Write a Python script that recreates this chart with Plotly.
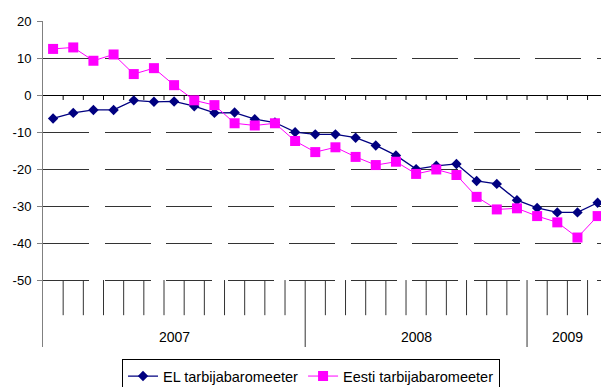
import plotly.graph_objects as go

# ---- data ----
years = ["2007", "2008", "2009"]
year_span = [13, 11, 4]  # number of monthly categories per year group

el_values = [-6.3, -4.8, -4.0, -4.0, -1.4, -1.8, -1.7, -3.0, -4.8, -4.7, -6.5, -7.4,
             -10.0, -10.6, -10.6, -11.5, -13.6, -16.3, -20.0, -19.1, -18.6, -23.2, -24.0,
             -28.4, -30.5, -31.7, -31.7, -29.1]
eesti_values = [12.5, 12.9, 9.3, 11.0, 5.7, 7.3, 2.7, -1.4, -2.7, -7.6, -8.2, -7.6,
                -12.4, -15.4, -14.1, -16.7, -18.9, -18.0, -21.3, -20.1, -21.6, -27.5, -30.9,
                -30.6, -32.7, -34.4, -38.5, -32.7]
y_ticks = [-50, -40, -30, -20, -10, 0, 10, 20]
y_tick_labels = ["-50", "-40", "-30", "-20", "-10", "0", "10", "20"]

n = len(el_values)
x = list(range(n))

Y_MIN, Y_MAX = -68.1, 20.05
FONT = '"Liberation Sans", Arial, sans-serif'

fig = go.Figure()
fig.add_trace(go.Scatter(
    x=x, y=el_values, name="EL tarbijabaromeeter", mode="lines+markers",
    line=dict(color="#000080", width=1.3),
    marker=dict(symbol="diamond", size=8, color="#000080"),
    cliponaxis=False,
))
fig.add_trace(go.Scatter(
    x=x, y=eesti_values, name="Eesti tarbijabaromeeter", mode="lines+markers",
    line=dict(color="#FF00FF", width=1),
    marker=dict(symbol="square", size=10, color="#FF00FF"),
    cliponaxis=False,
))

shapes = []
# small ticks on the zero line at category boundaries
for k in range(1, n):
    shapes.append(dict(type="line", xref="x", yref="y", x0=k - 0.5, x1=k - 0.5,
                       y0=0, y1=-1.3, line=dict(color="#000000", width=1)))
# category separators below the plot
year_bounds = []
acc = 0
for s in year_span:
    acc += s
    year_bounds.append(acc)
for k in range(1, n):
    bottom = Y_MIN if k in year_bounds else -59.5
    shapes.append(dict(type="line", xref="x", yref="y", x0=k - 0.5, x1=k - 0.5,
                       y0=-50, y1=bottom, line=dict(color="#333333", width=1)))

annotations = []
start = 0
for yr, s in zip(years, year_span):
    annotations.append(dict(x=start + s / 2 - 0.5, y=-65.3, xref="x", yref="y",
                            text=yr, showarrow=False,
                            font=dict(family=FONT, size=14, color="#000000")))
    start += s

fig.update_layout(
    width=601, height=387,
    margin=dict(l=43, r=0, t=21, b=40, autoexpand=False),
    paper_bgcolor="white", plot_bgcolor="white",
    font=dict(family=FONT, color="#000000"),
    showlegend=True,
    legend=dict(orientation="h", x=0.1416, xanchor="left",
                yref="container", y=0.072, yanchor="top",
                bordercolor="#000000", borderwidth=1, bgcolor="white",
                font=dict(family=FONT, size=14.5, color="#000000"),
                itemwidth=30, tracegroupgap=0),
    shapes=shapes,
    annotations=annotations,
)
fig.update_xaxes(range=[-0.5, 27.167], showticklabels=False, showgrid=False,
                 zeroline=False, showline=False, ticks="", automargin=False)
fig.update_yaxes(range=[Y_MIN, Y_MAX], tickvals=y_ticks, ticktext=y_tick_labels,
                 ticks="outside", ticklen=5, automargin=False, ticklabelstandoff=3,
                 tickcolor="#808080", showline=True, linecolor="#808080", linewidth=1,
                 showgrid=True, gridcolor="#333333", gridwidth=1, griddash="46px,15.5px",
                 zeroline=True, zerolinecolor="#000000", zerolinewidth=1,
                 tickfont=dict(family=FONT, size=13, color="#000000"))

fig.write_html("out.html", config={"displayModeBar": False},
               post_script="document.body.style.margin='0';document.body.style.overflow='hidden';")
